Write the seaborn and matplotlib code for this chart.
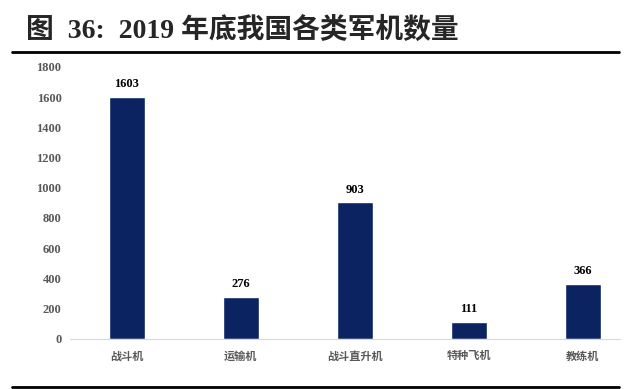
import matplotlib
matplotlib.use('Agg')
import matplotlib.pyplot as plt
import seaborn as sns
import pandas as pd
from matplotlib.lines import Line2D

# Data
categories = ['战斗机', '运输机', '战斗直升机', '特种飞机', '教练机']
counts = [1603, 276, 903, 111, 366]
yticks = [0, 200, 400, 600, 800, 1000, 1200, 1400, 1600, 1800]

sns.set_style('white')
plt.rcParams['font.family'] = ['Liberation Serif', 'Noto Sans CJK SC']

df = pd.DataFrame({'type': categories, 'count': counts})

fig = plt.figure(figsize=(6.4, 3.89), dpi=100)
ax = fig.add_axes([0.109, 0.129, 0.891, 0.699])

sns.barplot(data=df, x='type', y='count', color='#0b2360', width=0.315,
            saturation=1, ax=ax)

ax.set_ylim(0, 1800)
ax.set_yticks(yticks)
ax.set_xlim(-0.5, 4.5)
ax.set_xlabel('')
ax.set_ylabel('')
for s in ['top', 'right', 'left']:
    ax.spines[s].set_visible(False)
ax.spines['bottom'].set_color('#d9d9d9')
ax.spines['bottom'].set_linewidth(0.8)
ax.spines['bottom'].set_bounds(-0.5, 4.325)
ax.tick_params(axis='y', length=0, colors='#595959', labelsize=9, pad=6)
ax.tick_params(axis='x', length=0, colors='#595959', labelsize=8, pad=9)
for lbl in ax.get_yticklabels():
    lbl.set_fontweight('bold')
for lbl in ax.get_xticklabels():
    lbl.set_fontweight('bold')

# value labels
for i, v in enumerate(counts):
    ax.text(i, v + 45, str(v), ha='center', va='bottom', fontsize=9,
            fontweight='bold', color='black')

# title and rules
fig.text(0.04, 0.923, '图  36:  2019 年底我国各类军机数量', fontsize=20,
         fontweight='bold', ha='left', va='center')
fig.add_artist(Line2D([0.019, 0.967], [0.866, 0.866], color='black', lw=2))
fig.add_artist(Line2D([0.019, 0.967], [0.006, 0.006], color='black', lw=2))

fig.savefig('out.png', dpi=100)
